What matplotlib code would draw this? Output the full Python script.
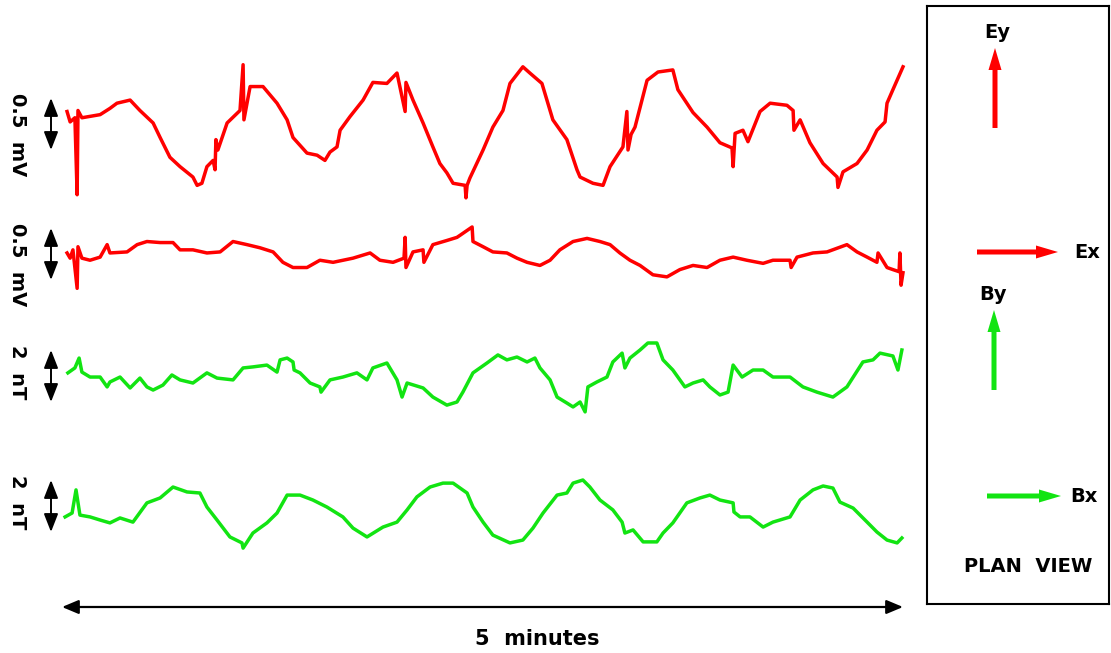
import matplotlib
matplotlib.use("Agg")
import matplotlib.pyplot as plt

# ---- dados: tempo em segundos, E em mV, B em nT ----
ey_t = [1.8, 2.9, 4.6, 5.4, 5.7, 7.1, 13.6, 17.1, 19.6, 24.3,
        27.8, 32.5, 35.0, 38.5, 42.1, 46.7, 48.2, 49.9, 51.7, 53.9,
        54.6, 54.9, 55.6, 58.9, 63.5, 64.6, 64.9, 67.1, 71.7, 76.7,
        80.3, 82.4, 87.4, 91.0, 93.8, 95.6, 98.1, 99.2, 102.7, 107.4,
        110.9, 115.9, 119.5, 122.4, 122.7, 125.2, 128.8, 132.3, 134.8, 137.3,
        139.5, 143.8, 144.1, 144.5, 145.5, 150.2, 153.7, 157.3, 159.8, 164.4,
        166.9, 171.2, 175.1, 180.1, 183.7, 184.8, 189.4, 193.0, 195.5, 200.1,
        201.5, 201.9, 203.0, 204.4, 208.7, 212.6, 217.9, 219.7, 225.1, 230.1,
        234.7, 239.0, 239.4, 240.1, 242.9, 244.7, 249.0, 252.6, 258.6, 260.8,
        261.1, 263.3, 266.8, 271.5, 276.5, 276.8, 278.6, 283.6, 287.2, 290.7,
        293.6, 294.3, 296.4, 300.0]
ey_v = [0.12, 0.02, 0.06, -0.68, 0.13, 0.06, 0.09, 0.15, 0.20, 0.23,
        0.13, 0.01, -0.13, -0.32, -0.41, -0.51, -0.59, -0.57, -0.41, -0.35,
        -0.44, -0.15, -0.25, 0.01, 0.13, 0.57, 0.04, 0.36, 0.36, 0.20,
        0.04, -0.13, -0.28, -0.30, -0.35, -0.27, -0.22, -0.06, 0.07, 0.23,
        0.40, 0.39, 0.49, 0.12, 0.40, 0.23, 0.01, -0.22, -0.38, -0.47,
        -0.57, -0.59, -0.71, -0.59, -0.52, -0.25, -0.03, 0.13, 0.39, 0.55,
        0.49, 0.39, 0.04, -0.15, -0.44, -0.51, -0.57, -0.59, -0.41, -0.22,
        0.12, -0.25, -0.10, -0.03, 0.42, 0.50, 0.52, 0.33, 0.11, -0.03,
        -0.18, -0.23, -0.41, -0.09, -0.06, -0.17, 0.12, 0.20, 0.18, 0.13,
        -0.06, 0.04, -0.18, -0.38, -0.51, -0.61, -0.46, -0.38, -0.25, -0.06,
        0.02, 0.20, 0.33, 0.55]

ex_t = [1.8, 2.9, 3.9, 5.4, 5.7, 7.1, 10.0, 13.6, 16.1, 17.1,
        23.2, 26.8, 30.3, 35.0, 39.6, 42.1, 46.7, 51.7, 56.4, 61.0,
        66.0, 70.6, 75.3, 78.8, 82.4, 87.4, 92.0, 96.7, 103.8, 109.9,
        113.4, 118.1, 122.0, 122.4, 122.7, 125.2, 128.8, 129.1, 132.3, 137.3,
        140.9, 142.0, 146.3, 146.6, 150.2, 153.7, 158.7, 162.3, 165.9, 170.5,
        174.1, 177.6, 182.3, 187.3, 191.9, 195.5, 199.0, 202.6, 206.2, 210.8,
        215.8, 220.4, 225.1, 230.1, 234.7, 239.4, 244.3, 250.1, 253.6, 259.7,
        260.1, 262.2, 267.9, 272.9, 280.0, 283.6, 287.2, 290.7, 291.1, 294.3,
        296.4, 298.6, 298.9, 299.3, 300.0]
ex_v = [0.01, -0.04, 0.04, -0.33, 0.07, -0.04, -0.06, -0.03, 0.09, 0.01,
        0.02, 0.09, 0.12, 0.11, 0.11, 0.04, 0.04, 0.01, 0.02, 0.12,
        0.09, 0.06, 0.02, -0.08, -0.13, -0.13, -0.06, -0.08, -0.04, 0.01,
        -0.06, -0.08, -0.04, 0.16, -0.13, 0.02, 0.04, -0.08, 0.09, 0.13,
        0.16, 0.18, 0.26, 0.12, 0.07, 0.02, 0.01, -0.04, -0.08, -0.11,
        -0.06, 0.04, 0.12, 0.15, 0.12, 0.09, 0.01, -0.06, -0.11, -0.20,
        -0.22, -0.15, -0.11, -0.13, -0.06, -0.03, -0.06, -0.09, -0.06, -0.06,
        -0.13, -0.03, 0.01, 0.02, 0.09, 0.02, -0.03, -0.08, 0.01, -0.13,
        -0.15, -0.17, 0.01, -0.30, -0.18]

by_t = [2.1, 4.6, 6.1, 7.1, 10.0, 13.6, 16.1, 17.1, 20.7, 24.3,
        27.8, 30.3, 32.5, 36.0, 39.2, 42.1, 46.7, 51.7, 55.3, 61.0,
        64.6, 68.1, 73.1, 76.7, 77.8, 80.3, 82.4, 82.8, 84.9, 88.5,
        92.0, 92.4, 95.6, 100.2, 105.2, 108.8, 110.9, 115.9, 119.5, 121.3,
        123.1, 128.8, 132.3, 137.3, 140.9, 143.0, 146.6, 151.6, 155.5, 158.7,
        162.3, 165.9, 168.7, 170.5, 174.1, 176.6, 180.1, 182.3, 184.8, 186.6,
        187.6, 190.8, 194.4, 196.5, 199.8, 200.8, 202.6, 206.2, 209.0, 212.2,
        214.4, 217.9, 222.2, 225.1, 228.7, 231.1, 234.7, 237.6, 239.4, 242.6,
        246.5, 250.1, 253.6, 259.7, 264.3, 269.3, 275.0, 280.0, 285.7, 289.3,
        291.8, 296.4, 298.2, 299.6]
by_v = [0.12, 0.31, 0.69, 0.15, -0.04, -0.04, -0.42, -0.23, -0.04, -0.46,
        -0.08, -0.42, -0.54, -0.35, 0.04, -0.15, -0.27, 0.12, -0.08, -0.15,
        0.31, 0.35, 0.42, 0.15, 0.62, 0.69, 0.54, 0.23, 0.12, -0.27,
        -0.42, -0.62, -0.15, -0.04, 0.12, -0.15, 0.31, 0.50, -0.15, -0.81,
        -0.27, -0.46, -0.81, -1.12, -1.00, -0.62, 0.12, 0.50, 0.81, 0.62,
        0.73, 0.54, 0.69, 0.31, -0.15, -0.81, -1.04, -1.19, -1.00, -1.38,
        -0.42, -0.23, -0.04, 0.54, 0.88, 0.31, 0.69, 1.00, 1.27, 1.27,
        0.62, 0.23, -0.42, -0.27, -0.15, -0.42, -0.73, -0.62, 0.42, -0.04,
        0.23, 0.23, -0.04, -0.04, -0.42, -0.62, -0.81, -0.42, 0.54, 0.62,
        0.88, 0.77, 0.23, 1.00]

bx_t = [1.1, 3.6, 5.0, 6.4, 10.0, 13.6, 17.1, 20.7, 25.3, 30.3,
        35.0, 39.6, 44.6, 49.2, 51.7, 55.3, 59.9, 64.2, 64.6, 68.1,
        73.1, 76.7, 80.3, 84.9, 89.5, 94.5, 100.2, 103.8, 108.8, 114.5,
        119.5, 123.1, 126.6, 131.3, 135.9, 139.5, 144.5, 146.6, 150.2, 153.7,
        159.8, 164.4, 168.0, 171.6, 176.6, 180.1, 182.3, 185.8, 188.3, 191.9,
        196.5, 199.8, 200.8, 203.7, 207.3, 212.2, 214.4, 217.9, 222.9, 227.6,
        231.1, 234.7, 239.4, 239.7, 241.9, 245.4, 250.1, 253.6, 259.7, 263.3,
        267.9, 271.5, 275.0, 277.5, 282.2, 287.2, 290.7, 294.3, 297.9, 299.6]
bx_v = [-0.42, -0.27, 0.62, -0.35, -0.42, -0.54, -0.65, -0.46, -0.62, 0.12,
        0.31, 0.73, 0.54, 0.50, -0.04, -0.54, -1.19, -1.42, -1.62, -1.04,
        -0.65, -0.27, 0.42, 0.42, 0.23, -0.04, -0.42, -0.85, -1.19, -0.81,
        -0.62, -0.15, 0.35, 0.73, 0.88, 0.88, 0.50, -0.04, -0.62, -1.12,
        -1.42, -1.31, -0.85, -0.27, 0.42, 0.50, 0.88, 1.00, 0.73, 0.23,
        -0.15, -0.62, -1.04, -0.92, -1.38, -1.38, -1.04, -0.65, 0.12, 0.31,
        0.42, 0.23, 0.12, -0.23, -0.42, -0.42, -0.81, -0.62, -0.42, 0.23,
        0.62, 0.77, 0.69, 0.15, -0.08, -0.62, -1.00, -1.31, -1.42, -1.23]

DURACAO = 300  # 5 minutos em segundos

# ---- layout (em pixels da figura 1111x653) ----
W, H = 1111, 653
X0, X1 = 62, 903          # extremos da seta de 5 minutos
AX_DIR = 920              # borda direita dos eixos dos traços
S_POR_PX = DURACAO / (X1 - X0)
VERMELHO = "#ff0000"
VERDE = "#12e412"


def caixa(esq, topo, dir, base):
    return [esq / W, 1 - base / H, (dir - esq) / W, (base - topo) / H]


def t_px(px):
    return (px - X0) * S_POR_PX


# (tempo, valor, cor, centro em px, px por unidade, rótulo, escala)
tracos = [
    (ey_t, ey_v, VERMELHO, 124, 104, "0.5  mV", 0.5),
    (ex_t, ex_v, VERMELHO, 254, 104, "0.5  mV", 0.5),
    (by_t, by_v, VERDE, 376, 26, "2  nT", 2),
    (bx_t, bx_v, VERDE, 506, 26, "2  nT", 2),
]

fig = plt.figure(figsize=(W / 100, H / 100), dpi=100)
MEIA = 65

eixos = []
for t, v, cor, yc, ppu, rotulo, escala in tracos:
    ax = fig.add_axes(caixa(0, yc - MEIA, AX_DIR, yc + MEIA))
    ax.set_xlim(t_px(0), t_px(AX_DIR))
    ax.set_ylim(-MEIA / ppu, MEIA / ppu)
    ax.axis("off")
    ax.plot(t, v, color=cor, lw=2.5, clip_on=False)

    # barra de escala com seta dupla
    xa = t_px(51)
    ax.annotate("", xy=(xa, escala / 2), xytext=(xa, -escala / 2),
                arrowprops=dict(arrowstyle="<|-|>,head_length=1.1,head_width=0.43",
                                color="black", lw=1.4, shrinkA=0, shrinkB=0,
                                mutation_scale=10))
    ax.annotate(rotulo, xy=(t_px(17.5), escala / 2), xytext=(0, 3.5),
                textcoords="offset points", rotation=270, ha="center", va="top",
                fontsize=14, fontweight="bold")
    eixos.append(ax)

# ---- seta de 5 minutos ----
ax = eixos[-1]
ax.annotate("", xy=(DURACAO, 1 - 607 / H), xytext=(0, 1 - 607 / H),
            xycoords=("data", "figure fraction"), textcoords=("data", "figure fraction"),
            arrowprops=dict(arrowstyle="<|-|>,head_length=1.0,head_width=0.42",
                            color="black", lw=1.6, shrinkA=0, shrinkB=0,
                            mutation_scale=10))
ax.annotate("5  minutes", xy=(537 / W, 1 - 639 / H),
            xycoords="figure fraction", ha="center", va="center",
            fontsize=15, fontweight="bold")

# ---- vista em planta ----
pv = fig.add_axes(caixa(927, 6, 1109, 604))
pv.set_xlim(927, 1109)
pv.set_ylim(604, 6)
pv.set_xticks([])
pv.set_yticks([])
for s in pv.spines.values():
    s.set_linewidth(1.5)
    s.set_color("black")

seta = dict(width=5, head_width=13, head_length=22, length_includes_head=True, lw=0)
pv.arrow(995, 128, 0, -80, fc=VERMELHO, **seta)
pv.arrow(977, 252, 81, 0, fc=VERMELHO, **seta)
pv.arrow(994, 390, 0, -80, fc=VERDE, **seta)
pv.arrow(987, 496, 74, 0, fc=VERDE, **seta)

estilo = dict(fontsize=14, fontweight="bold", ha="center", va="center")
pv.text(997, 33, "Ey", **estilo)
pv.text(1087, 253, "Ex", **estilo)
pv.text(993, 294, "By", **estilo)
pv.text(1084, 497, "Bx", **estilo)
pv.text(1028, 567, "PLAN  VIEW", **estilo)

fig.savefig("out.png", dpi=100)
